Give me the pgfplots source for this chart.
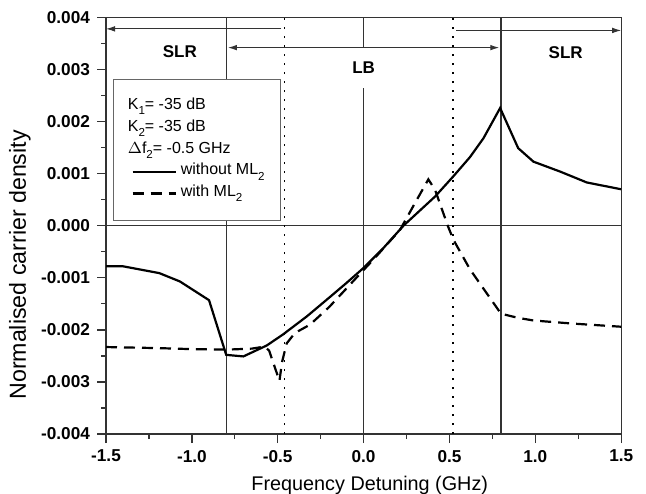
\documentclass[border=0pt]{standalone}
\usepackage{pgfplots}
\pgfplotsset{compat=1.18}
\usepackage{fontspec}
\setmainfont{Liberation Sans}
\usetikzlibrary{arrows.meta}
\newcommand{\sub}[1]{\raisebox{-0.6ex}{\fontsize{5.8}{6}\selectfont #1}}
\definecolor{frame}{gray}{0.2}
\begin{document}
\begin{tikzpicture}
\begin{axis}[
    at={(0,0)}, anchor=south west,
    scale only axis,
    width=257.6pt, height=208.3pt,
    xmin=-1.5, xmax=1.5,
    ymin=-0.004, ymax=0.004,
    xtick={-1.5,-1.0,-0.5,0,0.5,1.0,1.5},
    xticklabels={-1.5,-1.0,-0.5,0.0,0.5,1.0,1.5},
    ytick={-0.004,-0.003,-0.002,-0.001,0,0.001,0.002,0.003,0.004},
    yticklabels={-0.004,-0.003,-0.002,-0.001,0.000,0.001,0.002,0.003,0.004},
    scaled y ticks=false,
    minor x tick num=1, minor y tick num=1,
    tick align=outside,
    xtick pos=bottom, ytick pos=left,
    major tick length=4.5pt, minor tick length=2.5pt,
    axis line style={line width=0.65pt, frame},
    every tick/.style={line width=0.65pt, frame},
    ticklabel style={font=\fontsize{8.6}{10}\selectfont\bfseries},
    xlabel={Frequency Detuning (GHz)},
    ylabel={Normalised carrier density},
    xlabel style={font=\fontsize{9.9}{11}\selectfont, at={(axis description cs:0.512,-0.1345)}, anchor=base},
    ylabel style={font=\fontsize{11.6}{13}\selectfont, at={(axis description cs:-0.167,0.406)}, anchor=center},
    legend image code/.code={\path (-3pt,0pt); \draw[#1] (0pt,0pt) -- (21.5pt,0pt);},
    legend cell align=left,
    legend style={at={(axis cs:-1.459,0.00282)}, anchor=north west,
        draw=gray!80!black, line width=0.6pt,
        font=\fontsize{8}{9}\selectfont,
        inner xsep=6pt, inner ysep=8.2pt,
        row sep=0pt,
        nodes={text height=7pt, text depth=3.85pt, inner ysep=0pt}},
]
% guide lines
\draw[frame, line width=0.65pt] (axis cs:-1.5,0) -- (axis cs:1.5,0);
\draw[frame, line width=0.65pt] (axis cs:-0.8,-0.004) -- (axis cs:-0.8,0.004);
\draw[frame, line width=0.65pt] (axis cs:0,-0.004) -- (axis cs:0,0.004);
\draw[frame, line width=0.65pt] (axis cs:0.8,-0.004) -- (axis cs:0.8,0.004);
\draw[black, line width=0.7pt, dash pattern=on 0.8pt off 3.7pt] (axis cs:-0.46,-0.004) -- (axis cs:-0.46,0.004);
\draw[black, line width=0.7pt, dash pattern=on 0.8pt off 3.7pt] (axis cs:0.52,-0.004) -- (axis cs:0.52,0.004);
% region arrows
\draw[frame, line width=0.5pt, -{Latex[length=4.5pt,width=2.8pt]}] (axis cs:-0.48,0.00378) -- (axis cs:-1.5,0.00378);
\draw[frame, line width=0.5pt, {Latex[length=4.5pt,width=2.8pt]}-{Latex[length=4.5pt,width=2.8pt]}] (axis cs:-0.79,0.00342) -- (axis cs:0.79,0.00342);
\draw[frame, line width=0.5pt, -{Latex[length=4.5pt,width=2.8pt]}] (axis cs:0.54,0.00375) -- (axis cs:1.5,0.00375);
\node[font=\fontsize{8.5}{10}\selectfont\bfseries] at (axis cs:-1.07,0.00334) {SLR};
\node[font=\fontsize{8.5}{10}\selectfont\bfseries, fill=white, minimum height=20pt, inner xsep=2pt] at (axis cs:0,0.00303) {LB};
\node[font=\fontsize{8.5}{10}\selectfont\bfseries] at (axis cs:1.177,0.00332) {SLR};

\addlegendimage{empty legend}
\addlegendentry{\hspace{-26.5pt}K\sub{1}= -35 dB}
\addlegendimage{empty legend}
\addlegendentry{\hspace{-26.5pt}K\sub{2}= -35 dB}
\addlegendimage{empty legend}
\addlegendentry{\hspace{-26.5pt}$\Delta$f\sub{2}= -0.5 GHz}

\addplot[black, line width=1.1pt] coordinates {
(-1.5,-0.00078) (-1.4,-0.00078) (-1.19,-0.00091) (-1.07,-0.00107) (-0.9,-0.00143)
(-0.8,-0.00248) (-0.7,-0.00251) (-0.564,-0.00230) (-0.47,-0.00209) (-0.33,-0.00174)
(-0.2,-0.00138) (-0.1,-0.00110) (0,-0.00081) (0.115,-0.00043) (0.232,0.0) (0.416,0.00056)
(0.523,0.00095) (0.62,0.00132) (0.698,0.00168) (0.795,0.00226) (0.9,0.00149)
(0.989,0.00123) (1.144,0.00104) (1.3,0.00083) (1.5,0.00070)};
\addlegendentry{without ML\sub{2}}

\addplot[black, line width=1.1pt, dash pattern=on 5.5pt off 3.5pt] coordinates {
(-1.5,-0.00233) (-1.2,-0.00235) (-1.0,-0.00237) (-0.8,-0.00238) (-0.65,-0.00236)
(-0.575,-0.00232) (-0.55,-0.00240) (-0.49,-0.00298) (-0.475,-0.00262) (-0.448,-0.00226)
(-0.40,-0.00206) (-0.312,-0.00190) (-0.2,-0.00156) (0.0,-0.00085) (0.057,-0.00065)
(0.212,-0.00008) (0.30,0.00044) (0.377,0.00089) (0.416,0.00069) (0.49,0.0)
(0.523,-0.00027) (0.62,-0.00084) (0.8,-0.00169) (0.9,-0.00177) (0.989,-0.00182)
(1.22,-0.00188) (1.5,-0.00194)};
\addlegendentry{with ML\sub{2}}
\end{axis}
\pgfresetboundingbox
\path[use as bounding box] (-53pt,-29.5pt) rectangle (270pt,217pt);
\end{tikzpicture}
\end{document}
